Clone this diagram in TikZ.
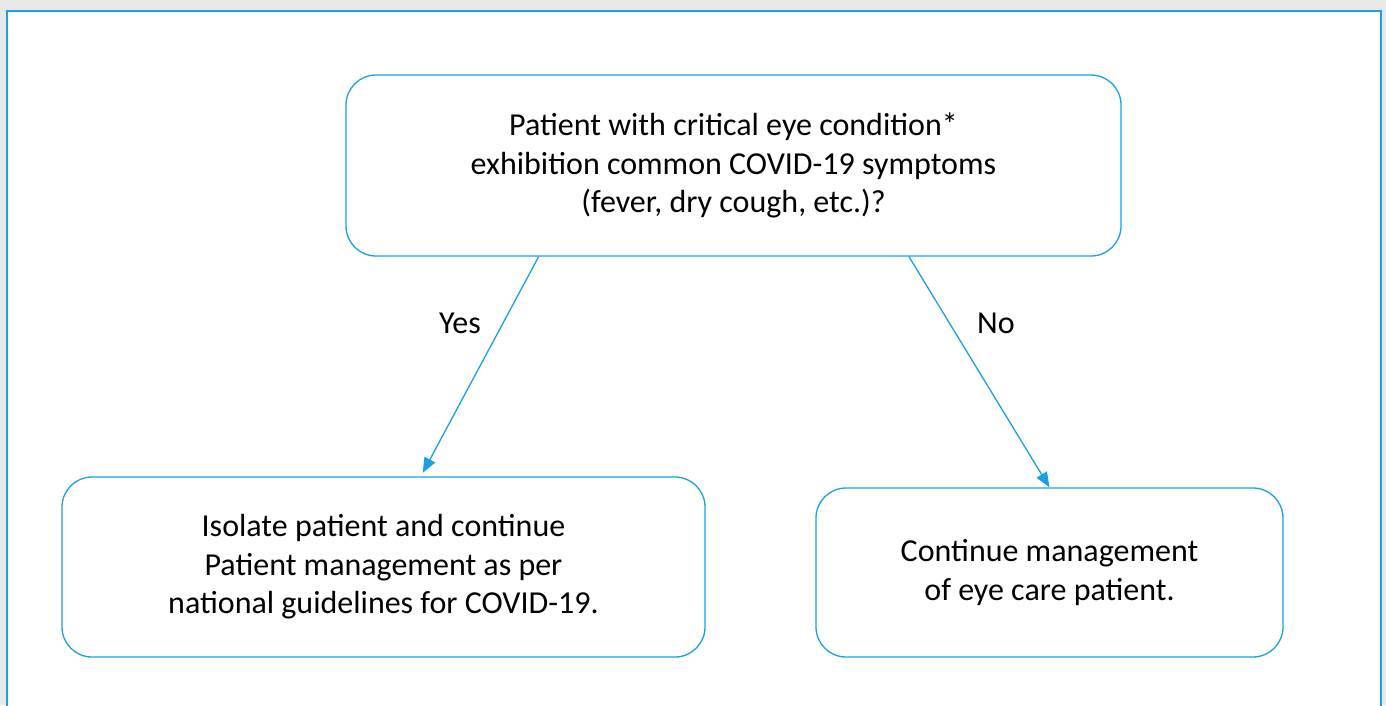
\documentclass[tikz,border=0pt]{standalone}
\usepackage{fontspec}
\setmainfont{Carlito}
\usepackage{tikz}
\usetikzlibrary{arrows.meta,positioning,calc}
\definecolor{flowblue}{RGB}{27,161,226}
\tikzset{
  blk/.style={draw=flowblue, line width=1.3pt, rounded corners=30pt, align=center, inner sep=4pt,
    font=\fontsize{32}{38.5}\selectfont, fill=white},
  lbl/.style={font=\fontsize{32}{38.5}\selectfont},
  arr/.style={-{Triangle[length=15pt, width=12pt]}, flowblue, line width=1.3pt},
}
\begin{document}
\begin{tikzpicture}[x=1pt, y=-1pt]
  \useasboundingbox (0,0) rectangle (1386,705);
  \fill[gray!18] (0,0) rectangle (1386,705);
  \filldraw[fill=white, draw=flowblue, line width=2pt] (7,11) rectangle (1381,720);
  \node[blk, minimum width=775pt, minimum height=181pt] (query) at (733.5,165.5)
    {Patient with critical eye condition*\\exhibition common COVID-19 symptoms\\(fever, dry cough, etc.)?};
  \node[blk, minimum width=643pt, minimum height=180pt] (isolate) at (383.5,567)
    {Isolate patient and continue\\Patient management as per\\national guidelines for COVID-19.};
  \node[blk, minimum width=467pt, minimum height=169pt] (cont) at (1049.5,572.5)
    {Continue management\\of eye care patient.};
  \draw[arr, shorten >=4pt] ($(query.south west)!0.249!(query.south east)$) -- ($(isolate.north west)!0.558!(isolate.north east)$);
  \draw[arr] ($(query.south west)!0.726!(query.south east)$) -- (cont.north);
  \node[lbl] (yes) at (460,323) {Yes};
  \node[lbl] (no) at (996,323) {No};
\end{tikzpicture}
\end{document}
